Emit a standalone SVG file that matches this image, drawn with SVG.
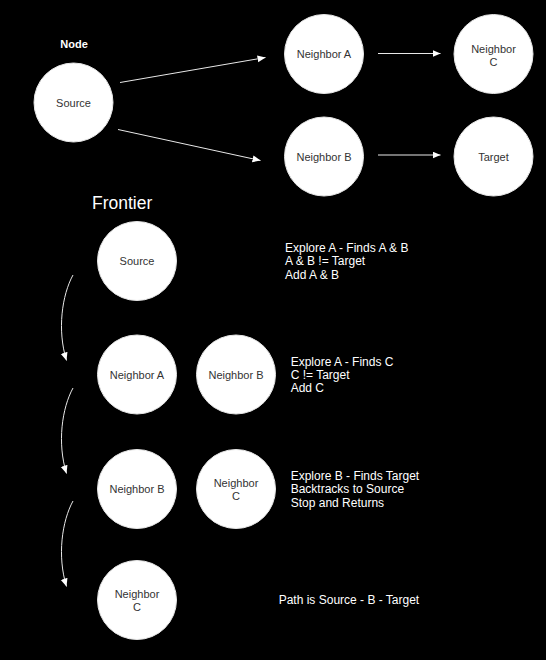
<svg xmlns="http://www.w3.org/2000/svg" width="546" height="660" viewBox="0 0 546 660">
<style>
.node circle{fill:#ffffff;stroke:#e6e6e6;stroke-width:1}
.node text{font-family:"Liberation Sans",Arial,sans-serif;font-size:11px;fill:#333333;text-anchor:middle}
.lbl{font-family:"Liberation Sans",Arial,sans-serif;fill:#ffffff}
.note{font-family:"Liberation Sans",Arial,sans-serif;font-size:12px;fill:#ffffff}
.edge{fill:none;stroke:#e8e8e8;stroke-width:1;marker-end:url(#arr)}
</style>
<defs>
<marker id="arr" markerUnits="userSpaceOnUse" markerWidth="9" markerHeight="8" refX="8" refY="3.5" orient="auto">
<path d="M0,0 L8,3.5 L0,7 Z" fill="#ffffff"/>
</marker>
</defs>
<rect x="0" y="0" width="546" height="660" fill="#000000"/>
<text class="lbl" x="74" y="48" font-size="11" font-weight="bold" text-anchor="middle">Node</text>
<text class="lbl" x="92" y="209" font-size="17.5">Frontier</text>
<g id="connectors">
<path class="edge" d="M120,82.5 L265.5,57.5"/>
<path class="edge" d="M118,129.5 L260.5,160.5"/>
<path class="edge" d="M378,53.5 L440.5,53.5"/>
<path class="edge" d="M378,155 L440.5,155"/>
<path class="edge" d="M73,275 C62,295 57,330 66.5,360.5"/>
<path class="edge" d="M73,388 C62,408 57,443 66.5,473.5"/>
<path class="edge" d="M73,501 C62,521 57,556 66.5,586.5"/>
</g>
<g id="n-source" class="node"><circle cx="73.5" cy="102.5" r="39.5"/><text x="73.5" y="106.5">Source</text></g>
<g id="n-a" class="node"><circle cx="324" cy="54" r="39.5"/><text x="324" y="58">Neighbor A</text></g>
<g id="n-c" class="node"><circle cx="493.5" cy="54" r="39.5"/><text x="493.5" y="53">Neighbor</text><text x="493.5" y="66">C</text></g>
<g id="n-b" class="node"><circle cx="324" cy="156.5" r="39.5"/><text x="324" y="160.5">Neighbor B</text></g>
<g id="n-target" class="node"><circle cx="493.5" cy="156.5" r="39.5"/><text x="493.5" y="160.5">Target</text></g>
<g id="f1-source" class="node"><circle cx="137" cy="261" r="39.5"/><text x="137" y="265">Source</text></g>
<g id="f2-a" class="node"><circle cx="137" cy="374.5" r="39.5"/><text x="137" y="378.5">Neighbor A</text></g>
<g id="f2-b" class="node"><circle cx="236" cy="374.5" r="39.5"/><text x="236" y="378.5">Neighbor B</text></g>
<g id="f3-b" class="node"><circle cx="137" cy="489" r="39.5"/><text x="137" y="493">Neighbor B</text></g>
<g id="f3-c" class="node"><circle cx="236" cy="489" r="39.5"/><text x="236" y="487">Neighbor</text><text x="236" y="500">C</text></g>
<g id="f4-c" class="node"><circle cx="137" cy="600" r="39.5"/><text x="137" y="598">Neighbor</text><text x="137" y="611">C</text></g>
<g id="note1"><text class="note" x="285" y="252">Explore A - Finds A &amp; B</text><text class="note" x="285" y="265.3">A &amp; B != Target</text><text class="note" x="285" y="278.6">Add A &amp; B</text></g>
<g id="note2"><text class="note" x="290.7" y="365.5">Explore A - Finds C</text><text class="note" x="290.7" y="378.8">C != Target</text><text class="note" x="290.7" y="392.1">Add C</text></g>
<g id="note3"><text class="note" x="290.7" y="480">Explore B - Finds Target</text><text class="note" x="290.7" y="493.3">Backtracks to Source</text><text class="note" x="290.7" y="506.6">Stop and Returns</text></g>
<g id="note4"><text class="note" x="278.7" y="604">Path is Source - B - Target</text></g>
</svg>
